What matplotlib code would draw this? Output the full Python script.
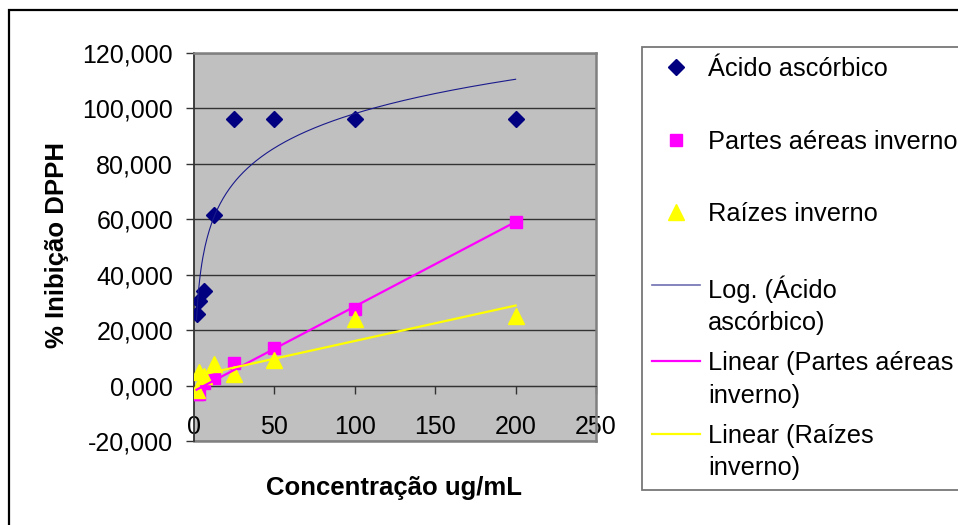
import numpy as np
import matplotlib
matplotlib.use("Agg")
import matplotlib.pyplot as plt
from matplotlib.lines import Line2D
from matplotlib.patches import Rectangle
from matplotlib.ticker import FuncFormatter

plt.rcParams['font.family'] = ['Liberation Sans', 'DejaVu Sans']

# concentrations (ug/mL) and % inhibition
conc = [1.5625, 3.125, 6.25, 12.5, 25, 50, 100, 200]
acido = [25.8, 30.6, 34.0, 61.7, 96.2, 96.2, 96.2, 96.2]
partes = [-3.2, -3.0, 1.0, 2.8, 8.0, 13.5, 27.5, 59.2]
raizes = [-1.7, 5.0, 3.6, 7.9, 4.3, 9.1, 24.0, 25.2]

x_ticks = [0, 50, 100, 150, 200, 250]
y_ticks = [-20, 0, 20, 40, 60, 80, 100, 120]

fig = plt.figure(figsize=(9.58, 5.25), dpi=100)
ax = fig.add_axes([194/958, 1-441/525, (596-194)/958, (441-53)/525])
ax.set_facecolor('#C0C0C0')

x = np.array(conc)
# trend lines, as Excel fits them
a, b = np.polyfit(np.log(x), acido, 1)
xs = np.linspace(x.min(), x.max(), 300)
log_fit = a*np.log(xs) + b
m1, c1 = np.polyfit(x, partes, 1)
m2, c2 = np.polyfit(x, raizes, 1)

ax.plot(conc, acido, ls='none', marker='D', ms=8, color='#000080', mec='#000080', zorder=3)
ax.plot(conc, partes, ls='none', marker='s', ms=9, color='#FF00FF', mec='#FF00FF', zorder=3)
ax.plot(conc, raizes, ls='none', marker='^', ms=11, color='#FFFF00', mec='#FFFF00', zorder=3)
ax.plot(xs, log_fit, color='#1a1a8c', lw=0.8, zorder=4)
ax.plot([x.min(), x.max()], [m1*x.min()+c1, m1*x.max()+c1], color='#FF00FF', lw=1.6, zorder=4)
ax.plot([x.min(), x.max()], [m2*x.min()+c2, m2*x.max()+c2], color='#FFFF00', lw=1.6, zorder=4)

ax.set_xlim(0, 250)
ax.set_ylim(-20, 120)
ax.set_xticks(x_ticks)
ax.set_yticks(y_ticks)
ax.yaxis.set_major_formatter(FuncFormatter(lambda v, p: f"{v:.3f}".replace('.', ',')))
ax.yaxis.grid(True, color='#333333', lw=1.0, zorder=1)
ax.set_axisbelow(True)

ax.spines['bottom'].set_position(('data', 0))
ax.spines['bottom'].set_color('#333333')
ax.spines['left'].set_color('#333333')
ax.spines['left'].set_linewidth(1.3)
for s in ['top', 'right']:
    ax.spines[s].set_color('#808080')
    ax.spines[s].set_linewidth(1.8)
ax.plot([0, 1], [0, 0], transform=ax.transAxes, color='#808080', lw=1.8, clip_on=False)

ax.tick_params(axis='x', direction='out', length=6, width=1, color='#333333', labelsize=18, pad=15)
ax.tick_params(axis='y', direction='out', length=6, width=1, color='#333333', labelsize=18, pad=9)

ax.set_xlabel('Concentração ug/mL', fontsize=18.5, fontweight='bold')
ax.xaxis.set_label_coords(0.497, -0.121)
ax.xaxis.label.set_va('center')
ax.set_ylabel('% Inibição DPPH', fontsize=18.5, fontweight='bold')
ax.yaxis.set_label_coords(-0.34, 0.505)
ax.yaxis.label.set_va('center')

handles = [
    Line2D([], [], ls='none', marker='D', ms=8, color='#000080'),
    Line2D([], [], ls='none', marker='s', ms=9, color='#FF00FF'),
    Line2D([], [], ls='none', marker='^', ms=11, color='#FFFF00'),
    Line2D([], [], color='#6f6fb0', lw=1.2),
    Line2D([], [], color='#FF00FF', lw=1.6),
    Line2D([], [], color='#FFFF00', lw=1.6),
]
labels = [
    'Ácido ascórbico\n ',
    'Partes aéreas inverno\n ',
    'Raízes inverno\n ',
    'Log. (Ácido\nascórbico)',
    'Linear (Partes aéreas\ninverno)',
    'Linear (Raízes\ninverno)',
]
leg = fig.legend(handles, labels, loc='upper left', bbox_to_anchor=(642/958, 1-47/525),
                 fontsize=18.3, frameon=True, fancybox=False, borderaxespad=0,
                 borderpad=0.4, labelspacing=0.64, handlelength=1.9, handleheight=1.0,
                 handletextpad=0.31, numpoints=1)
leg.get_frame().set_edgecolor('#555555')
leg.get_frame().set_linewidth(1.3)
for t in leg.get_texts():
    t.set_linespacing(1.44)
for col in leg._legend_handle_box.get_children():
    for entry in col.get_children():
        entry.align = 'top'

# outer chart border
fig.add_artist(Rectangle((9/958, -0.2), 1.2, 1-10/525+0.2, transform=fig.transFigure,
                         fill=False, edgecolor='black', lw=1.6))

fig.savefig('out.png', dpi=100)
